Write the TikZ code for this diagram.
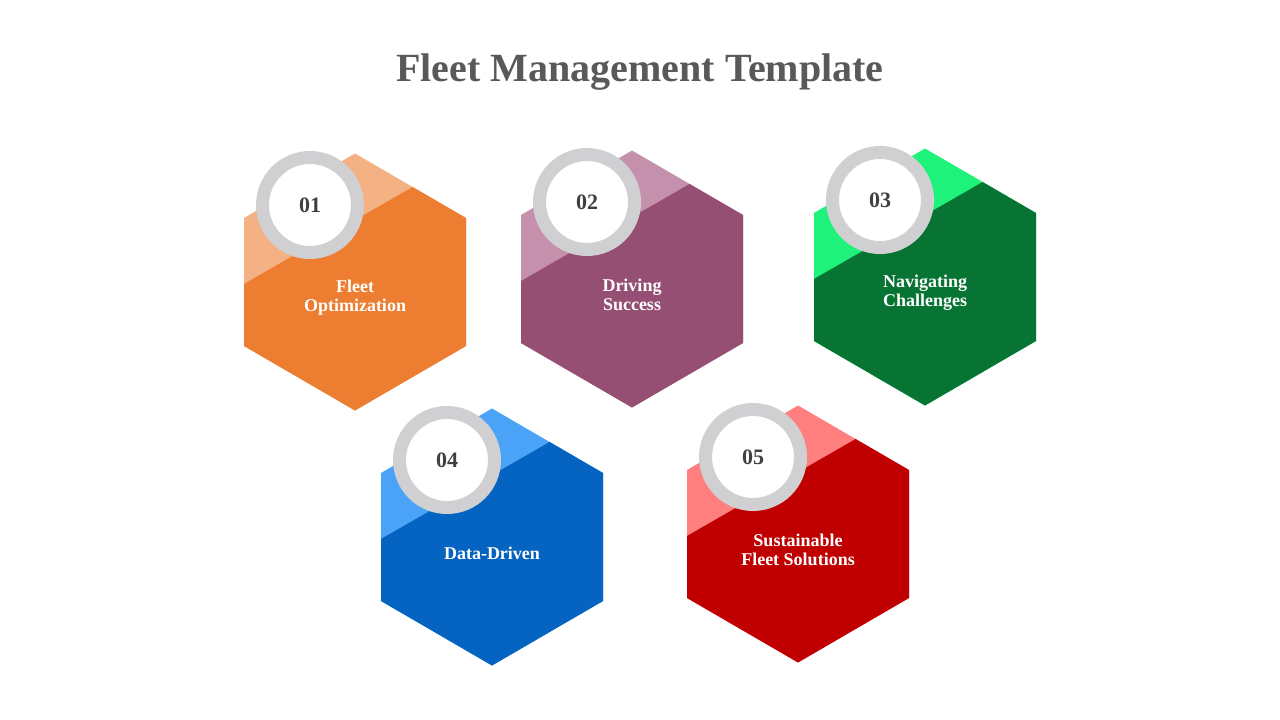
\documentclass[tikz,border=0pt]{standalone}
\usepackage{fontspec}
\setmainfont{Liberation Serif}
\usepackage{xcolor}
\definecolor{titleG}{HTML}{595959}
\definecolor{ringG}{HTML}{D0D0D2}
\definecolor{numG}{HTML}{404040}
\definecolor{darkA}{HTML}{ED7D31}\definecolor{lightA}{HTML}{F4B183}
\definecolor{darkB}{HTML}{954F72}\definecolor{lightB}{HTML}{C490AB}
\definecolor{darkC}{HTML}{077434}\definecolor{lightC}{HTML}{1EF27A}
\definecolor{darkD}{HTML}{0563C1}\definecolor{lightD}{HTML}{4BA3F7}
\definecolor{darkE}{HTML}{C00000}\definecolor{lightE}{HTML}{FF7F7F}
\tikzset{
  ring/.style={circle, draw=ringG, line width=13pt, fill=white, minimum size=95pt, inner sep=0pt,
    font=\bfseries\fontsize{22}{22}\selectfont, text=numG},
  label/.style={align=center, text=white, font=\bfseries\fontsize{18}{19}\selectfont},
}
\begin{document}
\begin{tikzpicture}[x=1pt, y=-1pt]
	\useasboundingbox (0,0) rectangle (1280,720);
	\node[text=titleG, font=\bfseries\fontsize{40}{40}\selectfont] (title) at (640,72) {Fleet Management Template};
	\foreach \name/\cx/\cy/\col/\num/\txt in {
		a/355/282/A/01/{Fleet\\Optimization},
		b/632/279/B/02/{Driving\\Success},
		c/925/277/C/03/{Navigating\\Challenges},
		d/492/537/D/04/{Data-Driven},
		e/798/534/E/05/{Sustainable\\Fleet Solutions}}{
		\begin{scope}[shift={(\cx,\cy)}]
			\fill[light\col] (0,-128.5) -- (111,-64) -- (111,64) -- (0,128.5) -- (-111,64) -- (-111,-64) -- cycle;
			\fill[dark\col] (-111,2) -- (57.6,-95) -- (111,-64) -- (111,64) -- (0,128.5) -- (-111,64) -- cycle;
			\coordinate (hex-\name) at (0,0);
			\node[ring] (num-\name) at (-45,-77) {\num};
			\node[label] (txt-\name) at (0,16) {\txt};
		\end{scope}
	}
\end{tikzpicture}
\end{document}
